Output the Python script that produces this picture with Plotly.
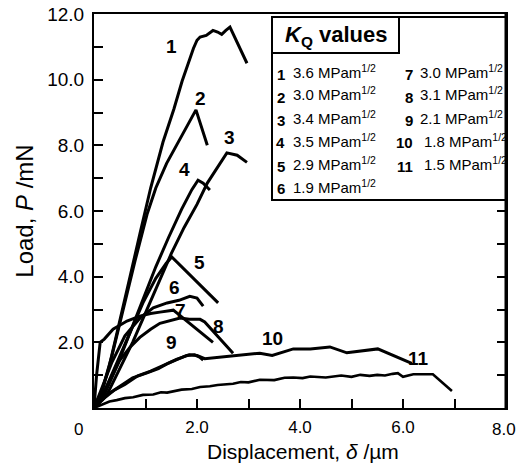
import plotly.graph_objects as go

# ---- data ----
c1_x = [0, 0.12, 0.3, 0.5, 0.7, 0.89, 1.1, 1.34, 1.55, 1.71, 1.85, 1.93, 2.0, 2.06, 2.18, 2.31, 2.4, 2.48, 2.56, 2.64, 2.97]
c1_y = [0, 0.3, 1.3, 2.7, 4.0, 5.3, 6.7, 8.1, 9.1, 9.95, 10.6, 10.95, 11.2, 11.3, 11.35, 11.5, 11.45, 11.38, 11.5, 11.6, 10.5]
c2_x = [0, 0.15, 0.35, 0.55, 0.8, 1.03, 1.2, 1.41, 1.6, 1.8, 1.98, 2.2]
c2_y = [0, 0.5, 1.6, 2.9, 4.5, 5.9, 6.7, 7.45, 8.0, 8.55, 9.08, 8.0]
c3_x = [0, 0.25, 0.5, 0.75, 1.0, 1.25, 1.5, 1.75, 2.0, 2.2, 2.4, 2.58, 2.78, 2.97]
c3_y = [0, 0.4, 1.2, 2.0, 2.9, 3.8, 4.7, 5.5, 6.2, 6.85, 7.35, 7.77, 7.7, 7.48]
c4_x = [0, 0.2, 0.45, 0.7, 0.95, 1.2, 1.45, 1.7, 1.9, 2.02, 2.12, 2.25]
c4_y = [0, 0.4, 1.3, 2.3, 3.3, 4.3, 5.2, 6.05, 6.65, 6.94, 6.85, 6.64]
c5_x = [0, 0.2, 0.45, 0.7, 0.95, 1.2, 1.4, 1.51, 2.41]
c5_y = [0, 0.5, 1.4, 2.3, 3.2, 3.95, 4.4, 4.6, 3.2]
c6_x = [0, 0.15, 0.35, 0.6, 0.9, 1.15, 1.42, 1.65, 1.86, 2.0, 2.12]
c6_y = [0, 0.6, 1.4, 2.2, 2.75, 3.05, 3.2, 3.28, 3.4, 3.35, 3.1]
c7_x = [0, 0.05, 0.12, 0.2, 0.37, 0.64, 0.89, 1.1, 1.28, 1.45, 1.54, 2.31]
c7_y = [0, 1.0, 2.0, 2.1, 2.4, 2.65, 2.8, 2.88, 2.92, 2.95, 2.98, 2.0]
c8_x = [0, 0.2, 0.5, 0.7, 0.89, 1.1, 1.28, 1.5, 1.67, 1.85, 2.06, 2.15, 2.7]
c8_y = [0, 0.5, 1.45, 1.85, 2.15, 2.4, 2.58, 2.68, 2.74, 2.7, 2.7, 2.62, 1.67]
c9_x = [0, 0.15, 0.3, 0.5, 0.75, 1.03, 1.25, 1.45, 1.65, 1.8, 1.95, 2.05, 2.12]
c9_y = [0, 0.25, 0.45, 0.65, 0.92, 1.07, 1.2, 1.37, 1.5, 1.6, 1.62, 1.55, 1.46]
c10_x = [0, 0.2, 0.4, 0.6, 0.85, 1.1, 1.35, 1.6, 1.85, 2.0, 2.15, 2.5, 2.9, 3.22, 3.46, 3.87, 4.2, 4.58, 4.91, 5.51, 6.17]
c10_y = [0, 0.3, 0.55, 0.72, 0.98, 1.12, 1.3, 1.48, 1.62, 1.6, 1.5, 1.56, 1.62, 1.67, 1.6, 1.8, 1.8, 1.86, 1.68, 1.8, 1.36]
c11_x = [0, 0.15, 0.3, 0.44, 0.6, 0.76, 0.95, 1.15, 1.3, 1.42, 1.7, 1.9, 2.06, 2.25, 2.4, 2.7, 2.85, 3.0, 3.22, 3.5, 3.7, 3.87,
         4.05, 4.2, 4.5, 4.8, 5.0, 5.17, 5.35, 5.5, 5.65, 5.8, 5.9, 6.0, 6.2, 6.58, 6.95]
c11_y = [0, 0.1, 0.2, 0.24, 0.3, 0.33, 0.4, 0.41, 0.48, 0.47, 0.56, 0.58, 0.64, 0.66, 0.7, 0.74, 0.79, 0.78, 0.86, 0.85, 0.92, 0.93,
         0.91, 0.96, 0.93, 0.99, 0.95, 1.01, 0.98, 1.01, 0.99, 1.04, 1.06, 0.95, 1.03, 1.03, 0.52]

curves_x = [c1_x, c2_x, c3_x, c4_x, c5_x, c6_x, c7_x, c8_x, c9_x, c10_x, c11_x]
curves_y = [c1_y, c2_y, c3_y, c4_y, c5_y, c6_y, c7_y, c8_y, c9_y, c10_y, c11_y]

curve_labels = ["1", "2", "3", "4", "5", "6", "7", "8", "9", "10", "11"]
label_x = [1.51, 2.06, 2.64, 1.75, 2.05, 1.57, 1.67, 2.41, 1.51, 3.46, 6.3]
label_y = [11.0, 9.44, 8.23, 7.25, 4.42, 3.68, 2.98, 2.47, 1.98, 2.13, 1.52]

kq_values = ["3.6", "3.0", "3.4", "3.5", "2.9", "1.9", "3.0", "3.1", "2.1", "1.8", "1.5"]

x_tickvals = [0, 1, 2, 3, 4, 5, 6, 7, 8]
x_ticktext = ["", "", "2.0", "", "4.0", "", "6.0", "", ""]
y_tickvals = [0, 1, 2, 3, 4, 5, 6, 7, 8, 9, 10, 11, 12]
y_ticktext = ["", "", "2.0", "", "4.0", "", "6.0", "", "8.0", "", "10.0", "", "12.0"]

FONT = "Liberation Sans, Arial, sans-serif"

fig = go.Figure()
for i, (xs, ys) in enumerate(zip(curves_x, curves_y)):
    fig.add_trace(go.Scatter(x=xs, y=ys, mode="lines",
                             line=dict(color="black", width=3 if i < 10 else 2.6),
                             showlegend=False, hoverinfo="skip"))

annotations = []
for t, lx, ly in zip(curve_labels, label_x, label_y):
    annotations.append(dict(x=lx, y=ly, xref="x", yref="y", text="<b>%s</b>" % t,
                            xanchor="center", yanchor="middle",
                            showarrow=False, font=dict(family=FONT, size=19, color="black")))

# legend box content (paper coordinates)
W, H = 519, 465
ml, mr, mt, mb = 94, 13, 14, 57
pw, ph = W - ml - mr, H - mt - mb

def px(xp):
    return (xp - ml) / pw

def py(yp):
    return 1 - (yp - mt) / ph

# origin "0" label and last x tick label (kept inside the canvas)
annotations.append(dict(x=px(78), y=py(429), xref="paper", yref="paper", text="0", showarrow=False,
                        xanchor="center", yanchor="middle", font=dict(family=FONT, size=17, color="black")))
annotations.append(dict(x=px(504), y=py(429), xref="paper", yref="paper", text="8.0", showarrow=False,
                        xanchor="center", yanchor="middle", font=dict(family=FONT, size=17, color="black")))
# x axis title
annotations.append(dict(x=px(303), y=py(452), xref="paper", yref="paper",
                        text="Displacement, <i>δ</i> /µm", showarrow=False,
                        xanchor="center", yanchor="middle", font=dict(family=FONT, size=21, color="black")))

annotations.append(dict(x=px(336), y=py(36), xref="paper", yref="paper",
                        xanchor="center", yanchor="middle",
                        text="<b><i>K</i><sub>Q</sub> values</b>", showarrow=False,
                        font=dict(family=FONT, size=22, color="black")))

row_y = [71, 94, 117, 140, 163, 186]
for i, v in enumerate(kq_values):
    col = 0 if i < 6 else 1
    r = i if i < 6 else i - 6
    num_right = 287 if col == 0 else 415
    txt_left = 291 if col == 0 else (418 if i < 9 else 422)
    annotations.append(dict(x=px(num_right), y=py(row_y[r] + 3), xref="paper", yref="paper",
                            xanchor="right", yanchor="middle",
                            text="<b>%s</b>" % curve_labels[i], showarrow=False,
                            font=dict(family=FONT, size=15, color="black")))
    annotations.append(dict(x=px(txt_left), y=py(row_y[r]), xref="paper", yref="paper",
                            xanchor="left", yanchor="middle",
                            text="%s MPam<sup>1/2</sup>" % v, showarrow=False,
                            font=dict(family=FONT, size=15, color="black")))

shapes = [
    dict(type="rect", xref="paper", yref="paper", x0=px(272), x1=1, y0=py(200), y1=py(17),
         line=dict(color="black", width=2), fillcolor="white", layer="above"),
    dict(type="rect", xref="paper", yref="paper", x0=px(272), x1=px(399), y0=py(53), y1=py(17),
         line=dict(color="black", width=2), layer="above"),
    dict(type="line", xref="paper", yref="paper", x0=1, x1=1, y0=0, y1=1,
         line=dict(color="black", width=3), layer="above"),
]

fig.update_layout(
    width=W, height=H,
    margin=dict(l=ml, r=mr, t=mt, b=mb, autoexpand=False),
    paper_bgcolor="white", plot_bgcolor="white",
    font=dict(family=FONT, color="black"),
    annotations=annotations, shapes=shapes,
    xaxis=dict(range=[0, 8], tickvals=x_tickvals, ticktext=x_ticktext, ticks="inside", ticklen=9,
               tickwidth=1.5, tickcolor="black", showline=True, linecolor="black", linewidth=2,
               mirror=True, showgrid=False, zeroline=False, automargin=False,
               ticklabelstandoff=3,
               tickfont=dict(family=FONT, size=17, color="black")),
    yaxis=dict(range=[0, 12], tickvals=y_tickvals, ticktext=y_ticktext, ticks="inside", ticklen=9,
               tickwidth=1.5, tickcolor="black", showline=True, linecolor="black", linewidth=2,
               mirror="ticks", showgrid=False, zeroline=False, automargin=False,
               ticklabelstandoff=4,
               tickfont=dict(family=FONT, size=19, color="black"),
               title=dict(text="Load, <i>P</i> /mN", font=dict(family=FONT, size=24, color="black"),
                          standoff=7)),
)

fig.write_html("out.html")
